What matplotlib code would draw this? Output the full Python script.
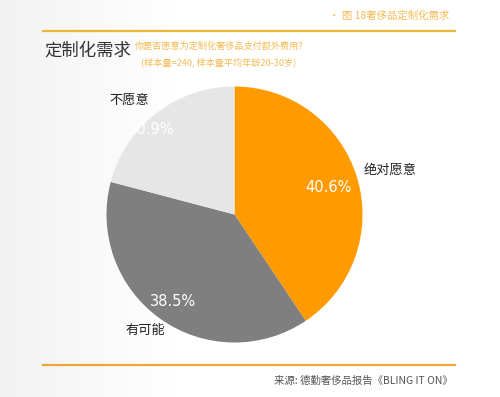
import numpy as np
import matplotlib.pyplot as plt

plt.rcParams['font.family'] = ['Noto Sans CJK SC', 'DejaVu Sans']

# data
labels = ['绝对愿意', '有可能', '不愿意']
shares = [40.6, 38.5, 20.9]
colors = ['#FF9A00', '#7F7F7F', '#E6E6E6']
pct_radius = [0.76, 0.83, 0.93]
pct_shift = [-1, 0, 7]      # degrees
label_radius = [1.26, 1.14, 1.21]
label_shift = [-1, -2, 5]   # degrees

fig = plt.figure(figsize=(5, 3.97), dpi=100)

# faint grey wash on the left like the source slide
bg = fig.add_axes([0, 0, 1, 1], zorder=-1)
grad = np.linspace(0, 1, 200)
grad = np.clip(grad / 0.35, 0, 1)
bg.imshow(np.tile(grad, (10, 1)), cmap='Greys_r', vmin=-8, vmax=1,
          aspect='auto', extent=[0, 1, 0, 1])
bg.set_xlim(0, 1)
bg.set_ylim(0, 1)
bg.axis('off')

# header / footer rules
fig.add_artist(plt.Line2D([0.086, 0.91], [1 - 31 / 397] * 2, color='#EDB43A', lw=1.6))
fig.add_artist(plt.Line2D([0.086, 0.91], [1 - 365 / 397] * 2, color='#EDA63A', lw=1.6))

fig.text(0.898, 1 - 16 / 397, '• 图 18奢侈品定制化需求', color='#F5BB55',
         fontsize=7.5, ha='right', va='center')
fig.text(0.088, 1 - 51 / 397, '定制化需求', color='#333333', fontsize=12.5,
         ha='left', va='center')
fig.text(0.27, 1 - 46 / 397, '你是否愿意为定制化奢侈品支付额外费用?', color='#F5BB55',
         fontsize=6.6, ha='left', va='center')
fig.text(0.282, 1 - 62 / 397, '(样本量=240, 样本量平均年龄20-30岁)', color='#F5BB55',
         fontsize=6.6, ha='left', va='center')
fig.text(0.906, 1 - 381 / 397, '来源: 德勤奢侈品报告《BLING IT ON》', color='#555555',
         fontsize=7.5, ha='right', va='center')

# pie
cx, cy, r = 234.5 / 500, 1 - 214.5 / 397, 128
ax = fig.add_axes([cx - r / 500, cy - r / 397, 2 * r / 500, 2 * r / 397])
wedges, _ = ax.pie(shares, colors=colors, startangle=90, counterclock=False,
                   wedgeprops=dict(linewidth=0))
ax.set_xlim(-1, 1)
ax.set_ylim(-1, 1)
ax.set_aspect('auto')
ax.axis('off')

for w, lab, val, pr, ps, lr, sh in zip(wedges, labels, shares, pct_radius, pct_shift,
                                       label_radius, label_shift):
    mid = np.deg2rad((w.theta1 + w.theta2) / 2)
    a = mid + np.deg2rad(ps)
    ax.text(pr * np.cos(a), pr * np.sin(a), f'{val}%', color='white',
            fontsize=10.5, ha='center', va='center', family='DejaVu Sans')
    a = mid + np.deg2rad(sh)
    ax.text(lr * np.cos(a), lr * np.sin(a), lab, color='#222222',
            fontsize=9.5, ha='center', va='center', clip_on=False)

fig.savefig('out.png', dpi=100)
